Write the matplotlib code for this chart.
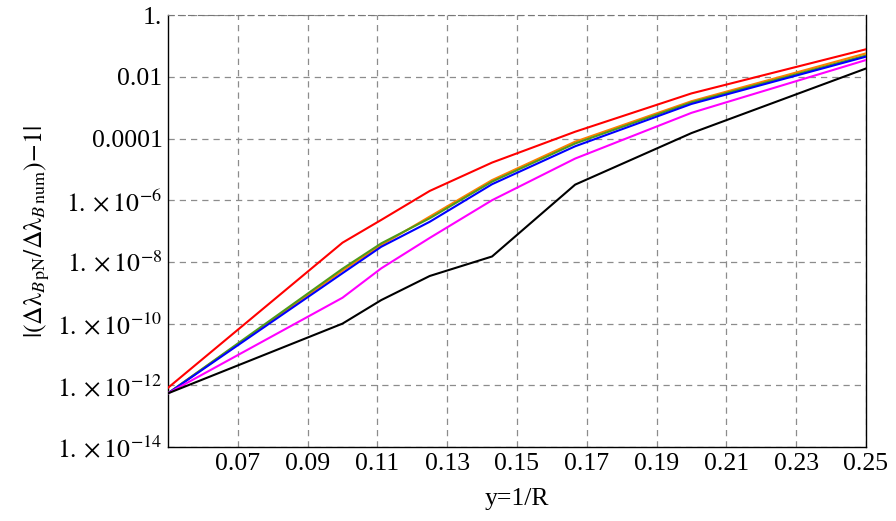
import numpy as np
import matplotlib
matplotlib.use("Agg")
import matplotlib.pyplot as plt

plt.rcParams['font.family'] = ['Liberation Serif', 'DejaVu Serif']
plt.rcParams['mathtext.fontset'] = 'stix'

# y = 1/R for R = 20, 10, 9, 8, 7, 6, 5, 4
y_vals = [0.05, 0.1, 1 / 9, 0.125, 1 / 7, 1 / 6, 0.2, 0.25]

red = [8.3e-13, 4.2e-8, 2.3e-7, 2.0e-6, 1.66e-5, 1.66e-4, 2.9e-3, 7.8e-2]
orange = [5.5e-13, 5.2e-9, 3.5e-8, 2.95e-7, 4.5e-6, 7.9e-5, 1.62e-3, 5.75e-2]
green = [5.5e-13, 6.0e-9, 4.0e-8, 2.6e-7, 4.0e-6, 6.9e-5, 1.48e-3, 4.9e-2]
blue = [5.5e-13, 4.3e-9, 3.1e-8, 2.0e-7, 3.3e-6, 5.6e-5, 1.32e-3, 4.5e-2]
magenta = [5.5e-13, 6.9e-10, 6.2e-9, 6.0e-8, 1.0e-6, 2.24e-5, 6.8e-4, 3.5e-2]
black = [5.5e-13, 1.0e-10, 5.8e-10, 3.5e-9, 1.5e-8, 3.2e-6, 1.5e-4, 1.86e-2]

x_ticks = [0.07, 0.09, 0.11, 0.13, 0.15, 0.17, 0.19, 0.21, 0.23, 0.25]
y_ticks = [1, 1e-2, 1e-4, 1e-6, 1e-8, 1e-10, 1e-12, 1e-14]
y_ticklabels = ['1.', '0.01', '0.0001', r'$1.\times10^{-6}$', r'$1.\times10^{-8}$',
                r'$1.\times10^{-10}$', r'$1.\times10^{-12}$', r'$1.\times10^{-14}$']

fig = plt.figure(figsize=(8.96, 5.21), dpi=100)
ax = fig.add_axes([0.1875, 0.142, 0.779, 0.829])

series = [(red, '#ff0000'), (orange, '#ff8000'), (green, '#4f9a1a'),
          (blue, '#0000ff'), (magenta, '#ff00ff'), (black, '#000000')]
for vals, col in series:
    ax.plot(y_vals, vals, color=col, lw=1.5, zorder=3)

ax.set_yscale('log')
ax.set_xlim(0.05, 0.25)
ax.set_ylim(1e-14, 1)
ax.set_xticks(x_ticks)
ax.set_xticklabels(['%.2f' % t for t in x_ticks])
ax.set_yticks(y_ticks)
ax.set_yticklabels(y_ticklabels)
ax.minorticks_off()
ax.tick_params(length=0, labelsize=18.5, pad=4)

ax.grid(True, color='#8c8c8c', linestyle=(0, (5, 4)), lw=0.9)
for s in ['left', 'bottom', 'right']:
    ax.spines[s].set_linewidth(1.0)
ax.spines['top'].set_color('#777777')
ax.spines['top'].set_linestyle((0, (5, 4)))

ax.set_xlabel('y=1/R', fontsize=18.5, labelpad=10)
ax.set_ylabel(r'$|(\Delta\mathrm{\lambda}_{B\,\mathrm{pN}}/\Delta\mathrm{\lambda}_{B\,\mathrm{num}})\!-\!1|$',
              fontsize=18.5, labelpad=4)

fig.savefig('out.png', dpi=100)
